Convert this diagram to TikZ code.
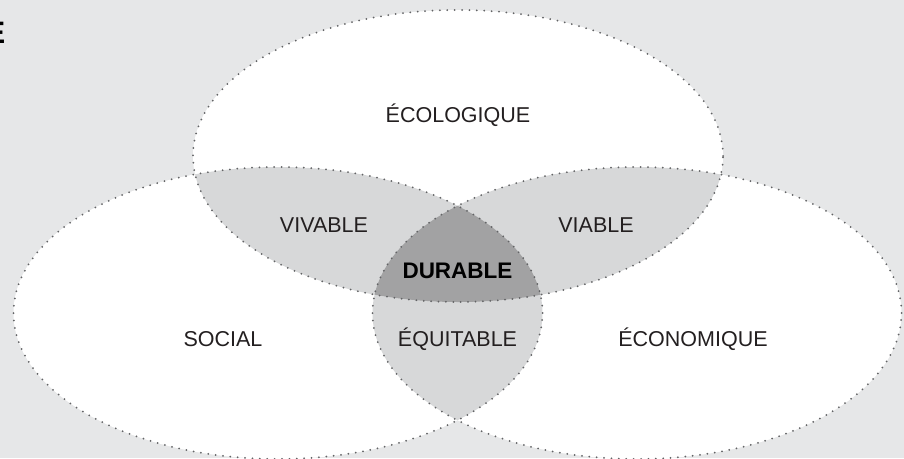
\documentclass[tikz,border=0pt]{standalone}
\usepackage{fontspec}
\setmainfont{Liberation Sans}
\definecolor{bgc}{HTML}{E6E7E8}
\definecolor{lensc}{HTML}{D7D8D9}
\definecolor{corec}{HTML}{A2A2A3}
\definecolor{dotc}{HTML}{626365}
\definecolor{txtc}{HTML}{231F20}
\tikzset{
  dotline/.style={draw=dotc, line width=2pt, line cap=round, dash pattern=on 0pt off 7.4pt},
  lbl/.style={inner sep=0pt, text=txtc, font=\fontsize{21.5}{24}\selectfont},
  boldlbl/.style={lbl, text=black, font=\bfseries\fontsize{22.5}{24}\selectfont},
}
\begin{document}
\begin{tikzpicture}[x=1pt,y=-1pt]
\useasboundingbox (0,0) rectangle (904,458);
\fill[bgc] (0,0) rectangle (904,458);
% centres
\coordinate (ct) at (458,156);
\coordinate (cl) at (278,313);
\coordinate (cr) at (637,313);
% white discs
\fill[white] (ct) ellipse [x radius=265pt, y radius=146pt];
\fill[white] (cl) ellipse [x radius=264.5pt, y radius=146pt];
\fill[white] (cr) ellipse [x radius=264.5pt, y radius=146pt];
% pairwise lenses
\begin{scope}
  \clip (ct) ellipse [x radius=265pt, y radius=146pt];
  \fill[lensc] (cl) ellipse [x radius=264.5pt, y radius=146pt];
  \fill[lensc] (cr) ellipse [x radius=264.5pt, y radius=146pt];
\end{scope}
\begin{scope}
  \clip (cl) ellipse [x radius=264.5pt, y radius=146pt];
  \fill[lensc] (cr) ellipse [x radius=264.5pt, y radius=146pt];
\end{scope}
% triple intersection
\begin{scope}
  \clip (ct) ellipse [x radius=265pt, y radius=146pt];
  \clip (cl) ellipse [x radius=264.5pt, y radius=146pt];
  \fill[corec] (cr) ellipse [x radius=264.5pt, y radius=146pt];
\end{scope}
% dotted outlines
\draw[dotline] (ct) ellipse [x radius=265pt, y radius=146pt];
\draw[dotline] (cl) ellipse [x radius=264.5pt, y radius=146pt];
\draw[dotline] (cr) ellipse [x radius=264.5pt, y radius=146pt];
% labels
\node[anchor=base east, inner sep=0pt, text=black, font=\bfseries\fontsize{31}{31}\selectfont] (title) at (5.5,43) {E};
\node[lbl] (eco) at (458,115) {ÉCOLOGIQUE};
\node[lbl] (viv) at (324,225.5) {VIVABLE};
\node[lbl] (via) at (596,225.5) {VIABLE};
\node[boldlbl] (dur) at (457.5,271) {DURABLE};
\node[lbl] (soc) at (223,339) {SOCIAL};
\node[lbl] (equ) at (457.5,339) {ÉQUITABLE};
\node[lbl] (econ) at (693,339) {ÉCONOMIQUE};
\end{tikzpicture}
\end{document}
